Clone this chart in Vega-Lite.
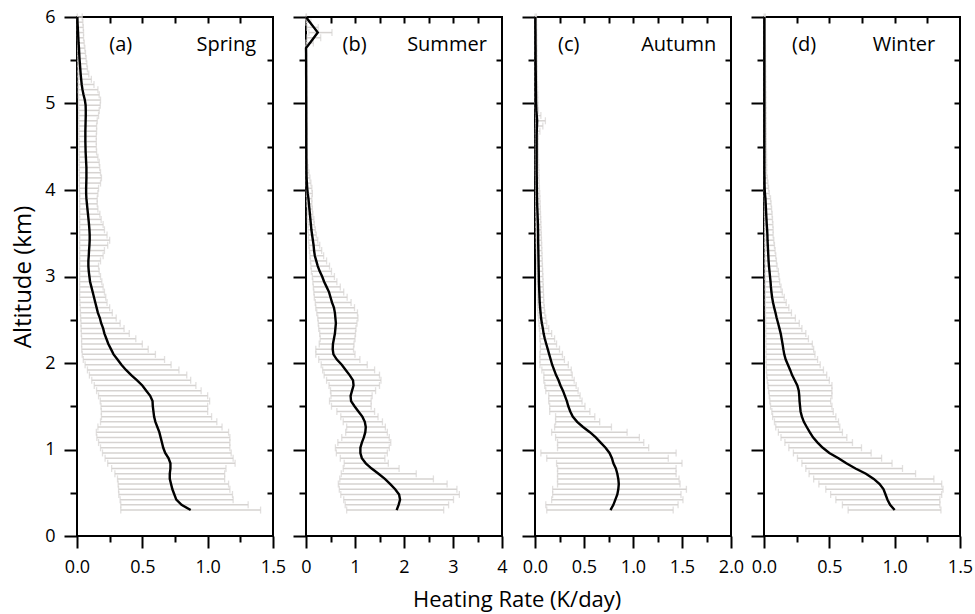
{
"$schema":"https://vega.github.io/schema/vega-lite/v6.json",
"padding":{"left":10,"top":7,"right":5,"bottom":5},
"title":{"text":"Heating Rate (K/day)","orient":"bottom","anchor":"middle","fontSize":22,"fontWeight":"normal","font":"Open Sans","color":"black","offset":13,"dx":25},
"datasets":{
"spring":[
{"z":0.30,"m":0.87,"l":0.335,"h":1.405},{"z":0.36,"m":0.80,"l":0.335,"h":1.31},{"z":0.42,"m":0.76,"l":0.33,"h":1.195},{"z":0.48,"m":0.745,"l":0.32,"h":1.19},{"z":0.54,"m":0.73,"l":0.318,"h":1.17},{"z":0.60,"m":0.72,"l":0.315,"h":1.16},{"z":0.66,"m":0.71,"l":0.31,"h":1.13},{"z":0.72,"m":0.71,"l":0.29,"h":1.13},{"z":0.78,"m":0.715,"l":0.265,"h":1.14},{"z":0.84,"m":0.715,"l":0.235,"h":1.21},{"z":0.90,"m":0.70,"l":0.215,"h":1.195},{"z":0.96,"m":0.675,"l":0.195,"h":1.18},{"z":1.02,"m":0.66,"l":0.18,"h":1.17},{"z":1.08,"m":0.65,"l":0.165,"h":1.17},{"z":1.14,"m":0.64,"l":0.152,"h":1.17},{"z":1.20,"m":0.63,"l":0.148,"h":1.16},{"z":1.26,"m":0.615,"l":0.16,"h":1.11},{"z":1.32,"m":0.60,"l":0.18,"h":1.07},{"z":1.38,"m":0.59,"l":0.187,"h":1.03},{"z":1.44,"m":0.585,"l":0.186,"h":1.0},{"z":1.50,"m":0.58,"l":0.184,"h":1.0},{"z":1.56,"m":0.578,"l":0.178,"h":1.015},{"z":1.62,"m":0.56,"l":0.165,"h":1.0},{"z":1.68,"m":0.53,"l":0.15,"h":0.95},{"z":1.74,"m":0.50,"l":0.132,"h":0.91},{"z":1.80,"m":0.46,"l":0.113,"h":0.87},{"z":1.86,"m":0.415,"l":0.095,"h":0.84},{"z":1.92,"m":0.375,"l":0.08,"h":0.78},{"z":1.98,"m":0.34,"l":0.062,"h":0.72},{"z":2.04,"m":0.31,"l":0.048,"h":0.67},{"z":2.10,"m":0.28,"l":0.04,"h":0.60},{"z":2.16,"m":0.26,"l":0.036,"h":0.545},{"z":2.22,"m":0.24,"l":0.035,"h":0.50},{"z":2.28,"m":0.225,"l":0.035,"h":0.45},{"z":2.34,"m":0.21,"l":0.033,"h":0.40},{"z":2.40,"m":0.20,"l":0.031,"h":0.36},{"z":2.46,"m":0.185,"l":0.03,"h":0.33},{"z":2.52,"m":0.175,"l":0.028,"h":0.30},{"z":2.58,"m":0.16,"l":0.026,"h":0.27},{"z":2.64,"m":0.15,"l":0.024,"h":0.25},{"z":2.70,"m":0.14,"l":0.022,"h":0.23},{"z":2.76,"m":0.13,"l":0.02,"h":0.22},{"z":2.82,"m":0.12,"l":0.02,"h":0.21},{"z":2.88,"m":0.11,"l":0.02,"h":0.20},{"z":2.94,"m":0.10,"l":0.02,"h":0.19},{"z":3.00,"m":0.095,"l":0.02,"h":0.18},{"z":3.06,"m":0.09,"l":0.02,"h":0.17},{"z":3.12,"m":0.087,"l":0.02,"h":0.165},{"z":3.18,"m":0.087,"l":0.02,"h":0.18},{"z":3.24,"m":0.09,"l":0.02,"h":0.20},{"z":3.30,"m":0.092,"l":0.02,"h":0.21},{"z":3.36,"m":0.095,"l":0.02,"h":0.235},{"z":3.42,"m":0.097,"l":0.02,"h":0.25},{"z":3.48,"m":0.097,"l":0.02,"h":0.23},{"z":3.54,"m":0.095,"l":0.02,"h":0.21},{"z":3.60,"m":0.092,"l":0.02,"h":0.20},{"z":3.66,"m":0.088,"l":0.02,"h":0.185},{"z":3.72,"m":0.084,"l":0.02,"h":0.175},{"z":3.78,"m":0.08,"l":0.02,"h":0.16},{"z":3.84,"m":0.076,"l":0.02,"h":0.155},{"z":3.90,"m":0.072,"l":0.02,"h":0.155},{"z":3.96,"m":0.07,"l":0.02,"h":0.16},{"z":4.02,"m":0.07,"l":0.018,"h":0.165},{"z":4.08,"m":0.071,"l":0.018,"h":0.18},{"z":4.14,"m":0.072,"l":0.018,"h":0.187},{"z":4.20,"m":0.072,"l":0.017,"h":0.18},{"z":4.26,"m":0.072,"l":0.017,"h":0.174},{"z":4.32,"m":0.07,"l":0.016,"h":0.17},{"z":4.38,"m":0.068,"l":0.016,"h":0.16},{"z":4.44,"m":0.066,"l":0.015,"h":0.15},{"z":4.50,"m":0.065,"l":0.015,"h":0.148},{"z":4.56,"m":0.064,"l":0.015,"h":0.148},{"z":4.62,"m":0.064,"l":0.014,"h":0.148},{"z":4.68,"m":0.064,"l":0.014,"h":0.15},{"z":4.74,"m":0.065,"l":0.014,"h":0.15},{"z":4.80,"m":0.066,"l":0.013,"h":0.155},{"z":4.86,"m":0.067,"l":0.013,"h":0.165},{"z":4.92,"m":0.067,"l":0.013,"h":0.17},{"z":4.98,"m":0.066,"l":0.012,"h":0.178},{"z":5.04,"m":0.06,"l":0.012,"h":0.18},{"z":5.10,"m":0.05,"l":0.011,"h":0.17},{"z":5.16,"m":0.042,"l":0.01,"h":0.16},{"z":5.22,"m":0.036,"l":0.01,"h":0.13},{"z":5.28,"m":0.032,"l":0.009,"h":0.11},{"z":5.34,"m":0.028,"l":0.008,"h":0.09},{"z":5.40,"m":0.025,"l":0.008,"h":0.08},{"z":5.46,"m":0.022,"l":0.007,"h":0.075},{"z":5.52,"m":0.019,"l":0.006,"h":0.07},{"z":5.58,"m":0.017,"l":0.006,"h":0.065},{"z":5.64,"m":0.015,"l":0.005,"h":0.06},{"z":5.70,"m":0.012,"l":0.005,"h":0.055},{"z":5.76,"m":0.01,"l":0.004,"h":0.05},{"z":5.82,"m":0.008,"l":0.004,"h":0.05},{"z":5.88,"m":0.006,"l":0.003,"h":0.048},{"z":5.94,"m":0.004,"l":0.003,"h":0.045},{"z":6.00,"m":0.003,"l":0.002,"h":0.04}
],
"summer":[
{"z":0.30,"m":1.85,"l":0.83,"h":2.81},{"z":0.36,"m":1.89,"l":0.80,"h":2.91},{"z":0.42,"m":1.92,"l":0.77,"h":3.01},{"z":0.48,"m":1.90,"l":0.71,"h":3.13},{"z":0.54,"m":1.82,"l":0.68,"h":3.08},{"z":0.60,"m":1.72,"l":0.66,"h":2.88},{"z":0.66,"m":1.61,"l":0.69,"h":2.60},{"z":0.72,"m":1.48,"l":0.72,"h":2.25},{"z":0.78,"m":1.34,"l":0.76,"h":1.90},{"z":0.84,"m":1.22,"l":0.78,"h":1.68},{"z":0.90,"m":1.14,"l":0.70,"h":1.61},{"z":0.96,"m":1.11,"l":0.62,"h":1.66},{"z":1.02,"m":1.11,"l":0.60,"h":1.70},{"z":1.08,"m":1.14,"l":0.65,"h":1.73},{"z":1.14,"m":1.18,"l":0.73,"h":1.70},{"z":1.20,"m":1.21,"l":0.81,"h":1.66},{"z":1.26,"m":1.22,"l":0.83,"h":1.62},{"z":1.32,"m":1.20,"l":0.76,"h":1.56},{"z":1.38,"m":1.15,"l":0.71,"h":1.47},{"z":1.44,"m":1.07,"l":0.63,"h":1.40},{"z":1.50,"m":0.99,"l":0.52,"h":1.33},{"z":1.56,"m":0.92,"l":0.48,"h":1.33},{"z":1.62,"m":0.91,"l":0.51,"h":1.35},{"z":1.68,"m":0.94,"l":0.50,"h":1.42},{"z":1.74,"m":0.97,"l":0.47,"h":1.50},{"z":1.80,"m":0.96,"l":0.42,"h":1.53},{"z":1.86,"m":0.89,"l":0.37,"h":1.50},{"z":1.92,"m":0.81,"l":0.34,"h":1.40},{"z":1.98,"m":0.73,"l":0.31,"h":1.25},{"z":2.04,"m":0.63,"l":0.26,"h":1.10},{"z":2.10,"m":0.56,"l":0.20,"h":1.00},{"z":2.16,"m":0.545,"l":0.20,"h":0.97},{"z":2.22,"m":0.55,"l":0.27,"h":0.98},{"z":2.28,"m":0.57,"l":0.29,"h":1.00},{"z":2.34,"m":0.59,"l":0.28,"h":1.01},{"z":2.40,"m":0.60,"l":0.26,"h":1.02},{"z":2.46,"m":0.61,"l":0.25,"h":1.04},{"z":2.52,"m":0.60,"l":0.24,"h":1.06},{"z":2.58,"m":0.59,"l":0.22,"h":1.05},{"z":2.64,"m":0.57,"l":0.20,"h":0.99},{"z":2.70,"m":0.53,"l":0.19,"h":0.92},{"z":2.76,"m":0.50,"l":0.17,"h":0.84},{"z":2.82,"m":0.47,"l":0.16,"h":0.77},{"z":2.88,"m":0.42,"l":0.15,"h":0.70},{"z":2.94,"m":0.37,"l":0.14,"h":0.63},{"z":3.00,"m":0.33,"l":0.13,"h":0.58},{"z":3.06,"m":0.28,"l":0.11,"h":0.52},{"z":3.12,"m":0.24,"l":0.10,"h":0.48},{"z":3.18,"m":0.21,"l":0.09,"h":0.42},{"z":3.24,"m":0.18,"l":0.08,"h":0.36},{"z":3.30,"m":0.165,"l":0.07,"h":0.32},{"z":3.36,"m":0.155,"l":0.06,"h":0.28},{"z":3.42,"m":0.14,"l":0.05,"h":0.24},{"z":3.48,"m":0.125,"l":0.05,"h":0.21},{"z":3.54,"m":0.11,"l":0.04,"h":0.19},{"z":3.60,"m":0.10,"l":0.04,"h":0.17},{"z":3.66,"m":0.09,"l":0.03,"h":0.16},{"z":3.72,"m":0.08,"l":0.03,"h":0.14},{"z":3.78,"m":0.07,"l":0.03,"h":0.13},{"z":3.84,"m":0.06,"l":0.02,"h":0.12},{"z":3.90,"m":0.05,"l":0.02,"h":0.12},{"z":3.96,"m":0.035,"l":0.01,"h":0.13},{"z":4.02,"m":0.025,"l":0.01,"h":0.12},{"z":4.08,"m":0.018,"l":0.005,"h":0.10},{"z":4.14,"m":0.012,"l":0.004,"h":0.08},{"z":4.20,"m":0.01,"l":0.003,"h":0.06},{"z":4.26,"m":0.008,"l":0.002,"h":0.04},{"z":4.32,"m":0.008,"l":0.002,"h":0.03},{"z":4.38,"m":0.007,"l":0.001,"h":0.02},{"z":4.44,"m":0.007,"l":0.001,"h":0.02},{"z":4.50,"m":0.006,"l":0.001,"h":0.018},{"z":4.56,"m":0.006,"l":0.001,"h":0.018},{"z":4.62,"m":0.006,"l":0.001,"h":0.016},{"z":4.68,"m":0.006,"l":0.001,"h":0.016},{"z":4.74,"m":0.006,"l":0.001,"h":0.015},{"z":4.80,"m":0.005,"l":0.001,"h":0.015},{"z":4.86,"m":0.005,"l":0.001,"h":0.014},{"z":4.92,"m":0.005,"l":0.001,"h":0.014},{"z":4.98,"m":0.005,"l":0.001,"h":0.013},{"z":5.04,"m":0.005,"l":0.001,"h":0.013},{"z":5.10,"m":0.004,"l":0.001,"h":0.012},{"z":5.16,"m":0.004,"l":0.001,"h":0.012},{"z":5.22,"m":0.004,"l":0.001,"h":0.011},{"z":5.28,"m":0.004,"l":0.001,"h":0.011},{"z":5.34,"m":0.003,"l":0.0,"h":0.01},{"z":5.40,"m":0.003,"l":0.0,"h":0.01},{"z":5.46,"m":0.003,"l":0.0,"h":0.01},{"z":5.52,"m":0.002,"l":0.0,"h":0.01},{"z":5.58,"m":0.002,"l":0.0,"h":0.01},{"z":5.64,"m":0.0,"l":0.0,"h":0.01},{"z":5.70,"m":0.08,"l":0.0,"h":0.15},{"z":5.76,"m":0.16,"l":0.02,"h":0.30},{"z":5.82,"m":0.24,"l":0.06,"h":0.53},{"z":5.88,"m":0.16,"l":0.02,"h":0.25},{"z":5.94,"m":0.08,"l":0.0,"h":0.10},{"z":6.00,"m":0.0,"l":0.0,"h":0.01}
],
"autumn":[
{"z":0.30,"m":0.77,"l":0.12,"h":1.41},{"z":0.36,"m":0.80,"l":0.11,"h":1.46},{"z":0.42,"m":0.82,"l":0.17,"h":1.51},{"z":0.48,"m":0.84,"l":0.18,"h":1.49},{"z":0.54,"m":0.85,"l":0.18,"h":1.545},{"z":0.60,"m":0.855,"l":0.23,"h":1.48},{"z":0.66,"m":0.85,"l":0.23,"h":1.47},{"z":0.72,"m":0.84,"l":0.23,"h":1.44},{"z":0.78,"m":0.825,"l":0.23,"h":1.44},{"z":0.84,"m":0.80,"l":0.22,"h":1.50},{"z":0.90,"m":0.785,"l":0.12,"h":1.36},{"z":0.96,"m":0.76,"l":0.06,"h":1.44},{"z":1.02,"m":0.72,"l":0.23,"h":1.16},{"z":1.08,"m":0.67,"l":0.23,"h":1.11},{"z":1.14,"m":0.62,"l":0.21,"h":1.065},{"z":1.20,"m":0.56,"l":0.17,"h":0.94},{"z":1.26,"m":0.49,"l":0.20,"h":0.78},{"z":1.32,"m":0.43,"l":0.21,"h":0.66},{"z":1.38,"m":0.385,"l":0.21,"h":0.61},{"z":1.44,"m":0.36,"l":0.15,"h":0.56},{"z":1.50,"m":0.34,"l":0.15,"h":0.51},{"z":1.56,"m":0.325,"l":0.14,"h":0.48},{"z":1.62,"m":0.305,"l":0.14,"h":0.46},{"z":1.68,"m":0.285,"l":0.11,"h":0.44},{"z":1.74,"m":0.26,"l":0.10,"h":0.42},{"z":1.80,"m":0.24,"l":0.09,"h":0.40},{"z":1.86,"m":0.215,"l":0.09,"h":0.38},{"z":1.92,"m":0.195,"l":0.07,"h":0.37},{"z":1.98,"m":0.175,"l":0.05,"h":0.34},{"z":2.04,"m":0.16,"l":0.05,"h":0.30},{"z":2.10,"m":0.145,"l":0.05,"h":0.28},{"z":2.16,"m":0.13,"l":0.055,"h":0.25},{"z":2.22,"m":0.115,"l":0.055,"h":0.22},{"z":2.28,"m":0.10,"l":0.05,"h":0.20},{"z":2.34,"m":0.088,"l":0.05,"h":0.17},{"z":2.40,"m":0.08,"l":0.045,"h":0.14},{"z":2.46,"m":0.07,"l":0.04,"h":0.12},{"z":2.52,"m":0.062,"l":0.035,"h":0.11},{"z":2.58,"m":0.057,"l":0.03,"h":0.10},{"z":2.64,"m":0.052,"l":0.028,"h":0.095},{"z":2.70,"m":0.048,"l":0.026,"h":0.09},{"z":2.76,"m":0.046,"l":0.025,"h":0.088},{"z":2.82,"m":0.044,"l":0.024,"h":0.086},{"z":2.88,"m":0.042,"l":0.022,"h":0.084},{"z":2.94,"m":0.04,"l":0.021,"h":0.082},{"z":3.00,"m":0.039,"l":0.02,"h":0.08},{"z":3.06,"m":0.038,"l":0.019,"h":0.078},{"z":3.12,"m":0.037,"l":0.018,"h":0.076},{"z":3.18,"m":0.036,"l":0.017,"h":0.074},{"z":3.24,"m":0.035,"l":0.016,"h":0.072},{"z":3.30,"m":0.034,"l":0.015,"h":0.07},{"z":3.36,"m":0.033,"l":0.014,"h":0.068},{"z":3.42,"m":0.032,"l":0.013,"h":0.066},{"z":3.48,"m":0.032,"l":0.012,"h":0.064},{"z":3.54,"m":0.031,"l":0.011,"h":0.062},{"z":3.60,"m":0.03,"l":0.01,"h":0.06},{"z":3.66,"m":0.028,"l":0.01,"h":0.058},{"z":3.72,"m":0.026,"l":0.009,"h":0.056},{"z":3.78,"m":0.024,"l":0.008,"h":0.054},{"z":3.84,"m":0.022,"l":0.008,"h":0.052},{"z":3.90,"m":0.021,"l":0.007,"h":0.05},{"z":3.96,"m":0.02,"l":0.007,"h":0.048},{"z":4.02,"m":0.019,"l":0.006,"h":0.045},{"z":4.08,"m":0.018,"l":0.006,"h":0.043},{"z":4.14,"m":0.018,"l":0.006,"h":0.041},{"z":4.20,"m":0.017,"l":0.005,"h":0.04},{"z":4.26,"m":0.017,"l":0.005,"h":0.038},{"z":4.32,"m":0.017,"l":0.005,"h":0.036},{"z":4.38,"m":0.017,"l":0.005,"h":0.035},{"z":4.44,"m":0.017,"l":0.005,"h":0.034},{"z":4.50,"m":0.017,"l":0.005,"h":0.033},{"z":4.56,"m":0.017,"l":0.005,"h":0.032},{"z":4.62,"m":0.017,"l":0.005,"h":0.035},{"z":4.68,"m":0.018,"l":0.005,"h":0.05},{"z":4.74,"m":0.02,"l":0.006,"h":0.08},{"z":4.80,"m":0.022,"l":0.008,"h":0.106},{"z":4.86,"m":0.018,"l":0.006,"h":0.06},{"z":4.92,"m":0.014,"l":0.005,"h":0.035},{"z":4.98,"m":0.012,"l":0.004,"h":0.03},{"z":5.04,"m":0.01,"l":0.003,"h":0.028},{"z":5.10,"m":0.01,"l":0.003,"h":0.027},{"z":5.16,"m":0.009,"l":0.003,"h":0.026},{"z":5.22,"m":0.009,"l":0.003,"h":0.025},{"z":5.28,"m":0.008,"l":0.002,"h":0.024},{"z":5.34,"m":0.008,"l":0.002,"h":0.023},{"z":5.40,"m":0.007,"l":0.002,"h":0.022},{"z":5.46,"m":0.007,"l":0.002,"h":0.021},{"z":5.52,"m":0.006,"l":0.002,"h":0.02},{"z":5.58,"m":0.006,"l":0.002,"h":0.019},{"z":5.64,"m":0.006,"l":0.001,"h":0.018},{"z":5.70,"m":0.005,"l":0.001,"h":0.018},{"z":5.76,"m":0.005,"l":0.001,"h":0.017},{"z":5.82,"m":0.005,"l":0.001,"h":0.016},{"z":5.88,"m":0.004,"l":0.001,"h":0.016},{"z":5.94,"m":0.004,"l":0.001,"h":0.015},{"z":6.00,"m":0.004,"l":0.001,"h":0.015}
],
"winter":[
{"z":0.30,"m":1.00,"l":0.644,"h":1.354},{"z":0.36,"m":0.965,"l":0.60,"h":1.346},{"z":0.42,"m":0.945,"l":0.55,"h":1.346},{"z":0.48,"m":0.93,"l":0.51,"h":1.36},{"z":0.54,"m":0.915,"l":0.473,"h":1.37},{"z":0.60,"m":0.885,"l":0.42,"h":1.36},{"z":0.66,"m":0.84,"l":0.38,"h":1.30},{"z":0.72,"m":0.78,"l":0.345,"h":1.16},{"z":0.78,"m":0.70,"l":0.32,"h":1.06},{"z":0.84,"m":0.63,"l":0.29,"h":0.98},{"z":0.90,"m":0.57,"l":0.256,"h":0.90},{"z":0.96,"m":0.50,"l":0.225,"h":0.82},{"z":1.02,"m":0.45,"l":0.19,"h":0.746},{"z":1.08,"m":0.41,"l":0.16,"h":0.677},{"z":1.14,"m":0.375,"l":0.13,"h":0.634},{"z":1.20,"m":0.35,"l":0.11,"h":0.60},{"z":1.26,"m":0.327,"l":0.09,"h":0.58},{"z":1.32,"m":0.305,"l":0.08,"h":0.57},{"z":1.38,"m":0.29,"l":0.066,"h":0.55},{"z":1.44,"m":0.28,"l":0.06,"h":0.53},{"z":1.50,"m":0.276,"l":0.05,"h":0.52},{"z":1.56,"m":0.272,"l":0.045,"h":0.51},{"z":1.62,"m":0.27,"l":0.04,"h":0.52},{"z":1.68,"m":0.266,"l":0.035,"h":0.52},{"z":1.74,"m":0.255,"l":0.03,"h":0.52},{"z":1.80,"m":0.235,"l":0.025,"h":0.50},{"z":1.86,"m":0.215,"l":0.02,"h":0.48},{"z":1.92,"m":0.20,"l":0.018,"h":0.455},{"z":1.98,"m":0.183,"l":0.016,"h":0.43},{"z":2.04,"m":0.166,"l":0.015,"h":0.41},{"z":2.10,"m":0.155,"l":0.015,"h":0.39},{"z":2.16,"m":0.148,"l":0.015,"h":0.38},{"z":2.22,"m":0.142,"l":0.014,"h":0.37},{"z":2.28,"m":0.135,"l":0.014,"h":0.34},{"z":2.34,"m":0.128,"l":0.013,"h":0.32},{"z":2.40,"m":0.118,"l":0.013,"h":0.29},{"z":2.46,"m":0.108,"l":0.012,"h":0.27},{"z":2.52,"m":0.097,"l":0.012,"h":0.24},{"z":2.58,"m":0.088,"l":0.011,"h":0.21},{"z":2.64,"m":0.078,"l":0.011,"h":0.19},{"z":2.70,"m":0.069,"l":0.01,"h":0.17},{"z":2.76,"m":0.062,"l":0.01,"h":0.155},{"z":2.82,"m":0.057,"l":0.01,"h":0.14},{"z":2.88,"m":0.053,"l":0.009,"h":0.13},{"z":2.94,"m":0.05,"l":0.009,"h":0.12},{"z":3.00,"m":0.046,"l":0.008,"h":0.115},{"z":3.06,"m":0.042,"l":0.008,"h":0.11},{"z":3.12,"m":0.038,"l":0.008,"h":0.10},{"z":3.18,"m":0.035,"l":0.007,"h":0.095},{"z":3.24,"m":0.033,"l":0.007,"h":0.09},{"z":3.30,"m":0.031,"l":0.007,"h":0.085},{"z":3.36,"m":0.029,"l":0.006,"h":0.08},{"z":3.42,"m":0.027,"l":0.006,"h":0.075},{"z":3.48,"m":0.026,"l":0.006,"h":0.07},{"z":3.54,"m":0.024,"l":0.005,"h":0.07},{"z":3.60,"m":0.021,"l":0.005,"h":0.068},{"z":3.66,"m":0.019,"l":0.005,"h":0.065},{"z":3.72,"m":0.017,"l":0.004,"h":0.062},{"z":3.78,"m":0.015,"l":0.004,"h":0.058},{"z":3.84,"m":0.013,"l":0.004,"h":0.054},{"z":3.90,"m":0.011,"l":0.003,"h":0.05},{"z":3.96,"m":0.007,"l":0.003,"h":0.04},{"z":4.02,"m":0.005,"l":0.002,"h":0.035},{"z":4.08,"m":0.004,"l":0.002,"h":0.03},{"z":4.14,"m":0.004,"l":0.002,"h":0.025},{"z":4.20,"m":0.003,"l":0.001,"h":0.02},{"z":4.26,"m":0.003,"l":0.001,"h":0.02},{"z":4.32,"m":0.003,"l":0.001,"h":0.02},{"z":4.38,"m":0.003,"l":0.001,"h":0.019},{"z":4.44,"m":0.003,"l":0.001,"h":0.019},{"z":4.50,"m":0.003,"l":0.001,"h":0.018},{"z":4.56,"m":0.003,"l":0.001,"h":0.018},{"z":4.62,"m":0.003,"l":0.001,"h":0.017},{"z":4.68,"m":0.003,"l":0.001,"h":0.017},{"z":4.74,"m":0.003,"l":0.001,"h":0.016},{"z":4.80,"m":0.003,"l":0.001,"h":0.016},{"z":4.86,"m":0.003,"l":0.001,"h":0.015},{"z":4.92,"m":0.003,"l":0.001,"h":0.015},{"z":4.98,"m":0.003,"l":0.001,"h":0.015},{"z":5.04,"m":0.003,"l":0.001,"h":0.014},{"z":5.10,"m":0.003,"l":0.001,"h":0.014},{"z":5.16,"m":0.003,"l":0.001,"h":0.013},{"z":5.22,"m":0.003,"l":0.001,"h":0.013},{"z":5.28,"m":0.003,"l":0.001,"h":0.013},{"z":5.34,"m":0.003,"l":0.001,"h":0.012},{"z":5.40,"m":0.003,"l":0.001,"h":0.012},{"z":5.46,"m":0.003,"l":0.001,"h":0.012},{"z":5.52,"m":0.003,"l":0.001,"h":0.011},{"z":5.58,"m":0.003,"l":0.001,"h":0.011},{"z":5.64,"m":0.003,"l":0.001,"h":0.011},{"z":5.70,"m":0.003,"l":0.001,"h":0.01},{"z":5.76,"m":0.003,"l":0.001,"h":0.01},{"z":5.82,"m":0.003,"l":0.001,"h":0.01},{"z":5.88,"m":0.003,"l":0.001,"h":0.01},{"z":5.94,"m":0.003,"l":0.001,"h":0.01},{"z":6.00,"m":0.003,"l":0.001,"h":0.01}
]
},
"hconcat":[
{"width":196,"height":519,"data":{"name":"spring"},
"layer":[
{"mark":{"type":"rule","color":"#d6d3d1","strokeWidth":1.5},"encoding":{"x":{"field":"l","type":"quantitative","scale":{"domain":[0,1.5],"nice":false},"axis":{"orient":"bottom","values":[0,0.5,1,1.5],"format":".1f","tickSize":12,"labelPadding":10,"title":null}},"x2":{"field":"h"},"y":{"field":"z","type":"quantitative","scale":{"domain":[0,6],"nice":false},"axis":{"orient":"left","values":[0,1,2,3,4,5,6],"tickSize":13,"labelPadding":9,"title":"Altitude (km)","titlePadding":9,"titleFontSize":24}}}},
{"mark":{"type":"tick","orient":"vertical","color":"#d6d3d1","size":7,"thickness":1.3},"encoding":{"x":{"field":"l","type":"quantitative","axis":{"orient":"bottom","values":[0.25,0.75,1.25],"tickSize":6,"labels":false,"title":null}},"y":{"field":"z","type":"quantitative","axis":{"orient":"left","values":[0.5,1.5,2.5,3.5,4.5,5.5],"tickSize":7,"labels":false,"title":null}}}},
{"mark":{"type":"tick","orient":"vertical","color":"#d6d3d1","size":7,"thickness":1.3},"encoding":{"x":{"field":"h","type":"quantitative","axis":{"orient":"top","values":[0.25,0.5,0.75,1,1.25],"tickSize":6,"offset":-6,"labels":false,"title":null}},"y":{"field":"z","type":"quantitative","axis":{"orient":"right","values":[0.5,1,1.5,2,2.5,3,3.5,4,4.5,5,5.5],"tickSize":6,"offset":-6,"labels":false,"title":null}}}},
{"mark":{"type":"line","color":"black","strokeWidth":2.4},"encoding":{"x":{"field":"m","type":"quantitative","axis":null},"y":{"field":"z","type":"quantitative","axis":null},"order":{"field":"z","type":"quantitative"}}},
{"data":{"values":[{"t":"(a)"}]},"mark":{"type":"text","fontSize":20,"align":"center","baseline":"middle","color":"black"},"encoding":{"x":{"datum":0.335,"type":"quantitative","axis":null},"y":{"datum":5.68,"type":"quantitative","axis":null},"text":{"field":"t"}}},
{"data":{"values":[{"t":"Spring"}]},"mark":{"type":"text","fontSize":20,"align":"right","baseline":"middle","color":"black"},"encoding":{"x":{"datum":1.37,"type":"quantitative","axis":null},"y":{"datum":5.68,"type":"quantitative","axis":null},"text":{"field":"t"}}}
],
"resolve":{"axis":{"x":"independent","y":"independent"}}},
{"width":196,"height":519,"data":{"name":"summer"},
"layer":[
{"mark":{"type":"rule","color":"#d6d3d1","strokeWidth":1.5},"encoding":{"x":{"field":"l","type":"quantitative","scale":{"domain":[0,4],"nice":false},"axis":{"orient":"bottom","values":[0,1,2,3,4],"format":"d","tickSize":12,"labelPadding":10,"title":null}},"x2":{"field":"h"},"y":{"field":"z","type":"quantitative","scale":{"domain":[0,6],"nice":false},"axis":{"orient":"left","values":[0,1,2,3,4,5,6],"tickSize":13,"labels":false,"title":null}}}},
{"mark":{"type":"tick","orient":"vertical","color":"#d6d3d1","size":7,"thickness":1.3},"encoding":{"x":{"field":"l","type":"quantitative","axis":{"orient":"bottom","values":[0.5,1.5,2.5,3.5],"tickSize":6,"labels":false,"title":null}},"y":{"field":"z","type":"quantitative","axis":{"orient":"left","values":[0.5,1.5,2.5,3.5,4.5,5.5],"tickSize":7,"labels":false,"title":null}}}},
{"mark":{"type":"tick","orient":"vertical","color":"#d6d3d1","size":7,"thickness":1.3},"encoding":{"x":{"field":"h","type":"quantitative","axis":{"orient":"top","values":[0.5,1,1.5,2,2.5,3,3.5],"tickSize":6,"offset":-6,"labels":false,"title":null}},"y":{"field":"z","type":"quantitative","axis":{"orient":"right","values":[0.5,1,1.5,2,2.5,3,3.5,4,4.5,5,5.5],"tickSize":6,"offset":-6,"labels":false,"title":null}}}},
{"mark":{"type":"line","color":"black","strokeWidth":2.4},"encoding":{"x":{"field":"m","type":"quantitative","axis":null},"y":{"field":"z","type":"quantitative","axis":null},"order":{"field":"z","type":"quantitative"}}},
{"data":{"values":[{"t":"(b)"}]},"mark":{"type":"text","fontSize":20,"align":"center","baseline":"middle","color":"black"},"encoding":{"x":{"datum":0.99,"type":"quantitative","axis":null},"y":{"datum":5.68,"type":"quantitative","axis":null},"text":{"field":"t"}}},
{"data":{"values":[{"t":"Summer"}]},"mark":{"type":"text","fontSize":20,"align":"right","baseline":"middle","color":"black"},"encoding":{"x":{"datum":3.69,"type":"quantitative","axis":null},"y":{"datum":5.68,"type":"quantitative","axis":null},"text":{"field":"t"}}}
],
"resolve":{"axis":{"x":"independent","y":"independent"}}},
{"width":196,"height":519,"data":{"name":"autumn"},
"layer":[
{"mark":{"type":"rule","color":"#d6d3d1","strokeWidth":1.5},"encoding":{"x":{"field":"l","type":"quantitative","scale":{"domain":[0,2],"nice":false},"axis":{"orient":"bottom","values":[0,0.5,1,1.5,2],"format":".1f","tickSize":12,"labelPadding":10,"title":null}},"x2":{"field":"h"},"y":{"field":"z","type":"quantitative","scale":{"domain":[0,6],"nice":false},"axis":{"orient":"left","values":[0,1,2,3,4,5,6],"tickSize":13,"labels":false,"title":null}}}},
{"mark":{"type":"tick","orient":"vertical","color":"#d6d3d1","size":7,"thickness":1.3},"encoding":{"x":{"field":"l","type":"quantitative","axis":{"orient":"bottom","values":[0.25,0.75,1.25,1.75],"tickSize":6,"labels":false,"title":null}},"y":{"field":"z","type":"quantitative","axis":{"orient":"left","values":[0.5,1.5,2.5,3.5,4.5,5.5],"tickSize":7,"labels":false,"title":null}}}},
{"mark":{"type":"tick","orient":"vertical","color":"#d6d3d1","size":7,"thickness":1.3},"encoding":{"x":{"field":"h","type":"quantitative","axis":{"orient":"top","values":[0.25,0.5,0.75,1,1.25,1.5,1.75],"tickSize":6,"offset":-6,"labels":false,"title":null}},"y":{"field":"z","type":"quantitative","axis":{"orient":"right","values":[0.5,1,1.5,2,2.5,3,3.5,4,4.5,5,5.5],"tickSize":6,"offset":-6,"labels":false,"title":null}}}},
{"mark":{"type":"line","color":"black","strokeWidth":2.4},"encoding":{"x":{"field":"m","type":"quantitative","axis":null},"y":{"field":"z","type":"quantitative","axis":null},"order":{"field":"z","type":"quantitative"}}},
{"data":{"values":[{"t":"(c)"}]},"mark":{"type":"text","fontSize":20,"align":"center","baseline":"middle","color":"black"},"encoding":{"x":{"datum":0.344,"type":"quantitative","axis":null},"y":{"datum":5.68,"type":"quantitative","axis":null},"text":{"field":"t"}}},
{"data":{"values":[{"t":"Autumn"}]},"mark":{"type":"text","fontSize":20,"align":"right","baseline":"middle","color":"black"},"encoding":{"x":{"datum":1.85,"type":"quantitative","axis":null},"y":{"datum":5.68,"type":"quantitative","axis":null},"text":{"field":"t"}}}
],
"resolve":{"axis":{"x":"independent","y":"independent"}}},
{"width":196,"height":519,"data":{"name":"winter"},
"layer":[
{"mark":{"type":"rule","color":"#d6d3d1","strokeWidth":1.5},"encoding":{"x":{"field":"l","type":"quantitative","scale":{"domain":[0,1.5],"nice":false},"axis":{"orient":"bottom","values":[0,0.5,1,1.5],"format":".1f","tickSize":12,"labelPadding":10,"title":null}},"x2":{"field":"h"},"y":{"field":"z","type":"quantitative","scale":{"domain":[0,6],"nice":false},"axis":{"orient":"left","values":[0,1,2,3,4,5,6],"tickSize":13,"labels":false,"title":null}}}},
{"mark":{"type":"tick","orient":"vertical","color":"#d6d3d1","size":7,"thickness":1.3},"encoding":{"x":{"field":"l","type":"quantitative","axis":{"orient":"bottom","values":[0.25,0.75,1.25],"tickSize":6,"labels":false,"title":null}},"y":{"field":"z","type":"quantitative","axis":{"orient":"left","values":[0.5,1.5,2.5,3.5,4.5,5.5],"tickSize":7,"labels":false,"title":null}}}},
{"mark":{"type":"tick","orient":"vertical","color":"#d6d3d1","size":7,"thickness":1.3},"encoding":{"x":{"field":"h","type":"quantitative","axis":{"orient":"top","values":[0.25,0.5,0.75,1,1.25],"tickSize":6,"offset":-6,"labels":false,"title":null}},"y":{"field":"z","type":"quantitative","axis":{"orient":"right","values":[0.5,1,1.5,2,2.5,3,3.5,4,4.5,5,5.5],"tickSize":6,"offset":-6,"labels":false,"title":null}}}},
{"mark":{"type":"line","color":"black","strokeWidth":2.4},"encoding":{"x":{"field":"m","type":"quantitative","axis":null},"y":{"field":"z","type":"quantitative","axis":null},"order":{"field":"z","type":"quantitative"}}},
{"data":{"values":[{"t":"(d)"}]},"mark":{"type":"text","fontSize":20,"align":"center","baseline":"middle","color":"black"},"encoding":{"x":{"datum":0.307,"type":"quantitative","axis":null},"y":{"datum":5.68,"type":"quantitative","axis":null},"text":{"field":"t"}}},
{"data":{"values":[{"t":"Winter"}]},"mark":{"type":"text","fontSize":20,"align":"right","baseline":"middle","color":"black"},"encoding":{"x":{"datum":1.31,"type":"quantitative","axis":null},"y":{"datum":5.68,"type":"quantitative","axis":null},"text":{"field":"t"}}}
],
"resolve":{"axis":{"x":"independent","y":"independent"}}}
],
"spacing":33,
"bounds":"flush",
"config":{
"font":"Open Sans",
"view":{"stroke":"black","strokeWidth":2},
"axis":{"grid":false,"domain":false,"tickColor":"black","tickWidth":2,"labelColor":"black","labelFont":"Open Sans","labelFontSize":18,"labelFlush":false,"labelOverlap":false,"titleFont":"Open Sans","titleFontSize":22,"titleFontWeight":"normal","titleColor":"black"},
"text":{"font":"Open Sans"}
}
}
